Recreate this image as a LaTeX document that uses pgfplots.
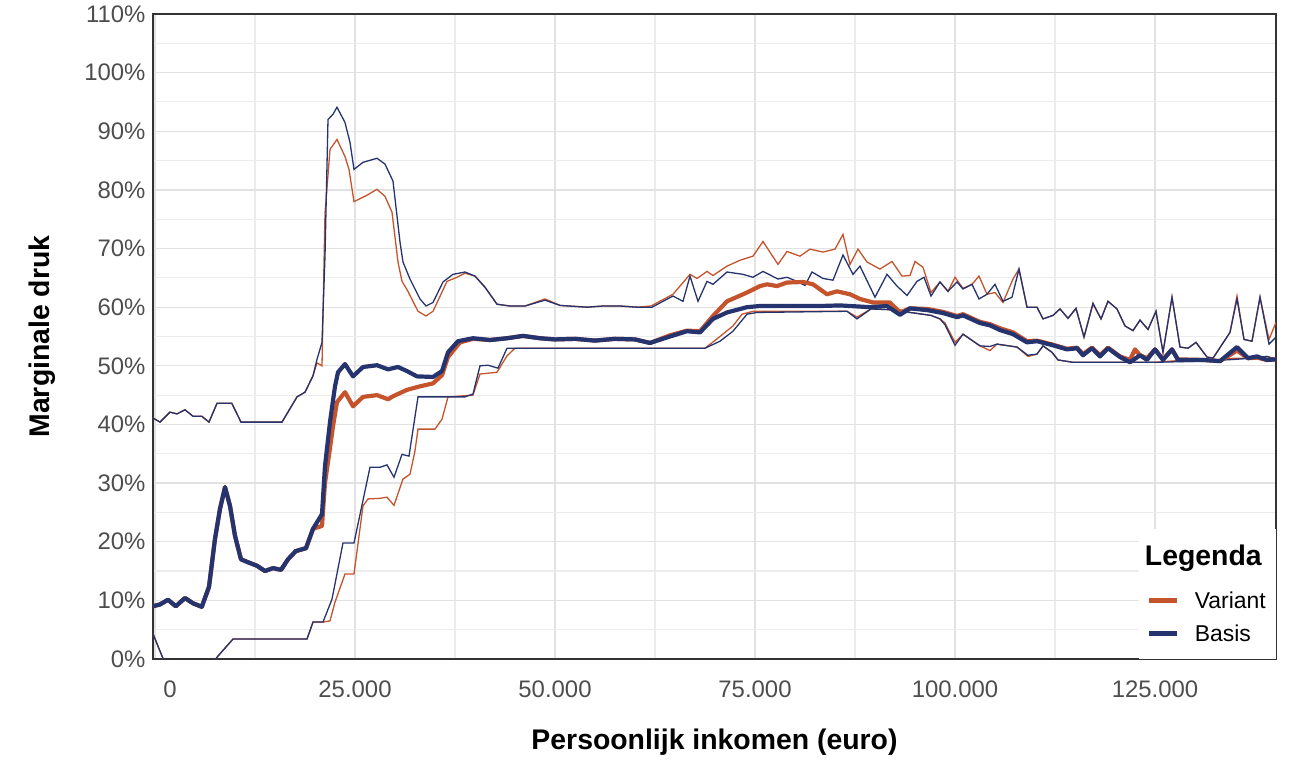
\documentclass[border=0pt]{standalone}
\usepackage{fontspec}
\setmainfont{Liberation Sans}
\usepackage{pgfplots}
\pgfplotsset{compat=1.18}
\definecolor{varc}{RGB}{197,84,44}
\definecolor{basc}{RGB}{37,52,110}
\definecolor{tickc}{RGB}{77,77,77}
\definecolor{gridc}{RGB}{226,226,226}
\definecolor{gridm}{RGB}{236,236,236}

\begin{document}
\begin{tikzpicture}
\useasboundingbox (-153bp,-119bp) rectangle (1146bp,659bp);
\begin{axis}[
  at={(0,0)}, anchor=south west,
  scale only axis, width=1123bp, height=645bp,
  xmin=-250, xmax=140125, ymin=0, ymax=110,
  xtick={0,25000,50000,75000,100000,125000},
  xticklabels={\hspace*{30bp}0,25.000,50.000,75.000,100.000,125.000},
  ytick={0,10,20,30,40,50,60,70,80,90,100,110},
  yticklabels={0\%,10\%,20\%,30\%,40\%,50\%,60\%,70\%,80\%,90\%,100\%,110\%},
  minor x tick num=1, minor y tick num=1,
  grid=both,
  major grid style={draw=gridc, line width=1.3bp},
  minor grid style={draw=gridm, line width=1.1bp},
  major tick length=0pt, minor tick length=0pt,
  axis line style={draw=black!80, line width=1.1bp},
  tick label style={font=\fontsize{24}{28}\selectfont, text=tickc},
  xticklabel style={yshift=-18bp},
  yticklabel style={xshift=-4bp},
  scaled x ticks=false,
  xlabel={Persoonlijk inkomen (euro)},
  ylabel={Marginale druk},
  xlabel style={at={(axis description cs:0.5,-0.1287)}, anchor=center, font=\fontsize{28.5}{32}\selectfont\bfseries},
  ylabel style={at={(axis description cs:-0.0985,0.5)}, anchor=center, font=\fontsize{28.5}{32}\selectfont\bfseries},
  legend style={at={(1,0)}, anchor=south east, draw=none, fill=white,
    font=\fontsize{23}{27}\selectfont, inner xsep=8bp, inner ysep=14bp,
    row sep=11bp, column sep=13bp},
  legend cell align=left,
  legend image code/.code={\draw[#1, line width=5bp] (0bp,0bp) -- (28bp,0bp);},
  thinline/.style={line width=1.3bp},
  thickline/.style={line width=4.2bp, line join=round},
]
\addlegendimage{empty legend}
\addlegendentry{\hspace*{-50bp}\raisebox{10bp}{\fontsize{28.5}{32}\selectfont\bfseries Legenda}}

% Variant lower
\addplot[varc, thinline, forget plot] coordinates {
(-250,4.3)(875,0.5)(1500,-1.5)(7000,-1.0)(7875,0.5)(9750,3.4)(19000,3.4)(19750,6.3)(21000,6.3)
(21875,6.5)(22500,9.7)(23750,14.5)(24875,14.5)(26000,26.1)(26625,27.3)(28125,27.4)(29000,27.6)
(29875,26.2)(31000,30.7)(31875,31.5)(32500,35.5)(32875,39.2)(35000,39.2)(35875,40.9)(36625,44.7)
(39750,45.0)(40625,48.6)(42750,48.9)(44000,51.7)(45000,53.0)(68750,53.0)(70625,55.0)(72250,56.8)
(73375,58.8)(74750,59.3)(86500,59.3)(87750,58.3)(89500,59.7)(93125,59.5)(94375,59.1)(97000,58.6)
(98125,58.0)(98750,57.3)(100000,54.0)(101000,55.4)(103125,53.4)(104375,52.6)(105250,53.7)(107750,53.2)
(109125,51.6)(110250,52.0)(111000,53.4)(112125,52.3)(112875,51.0)(114750,50.6)(125000,50.6)
(128000,50.9)(131000,50.8)(135000,51.3)(137125,51.3)(139000,51.6)(140125,51.1)
};
% Variant upper
\addplot[varc, thinline, forget plot] coordinates {
(-250,41.1)(625,40.4)(1875,42.1)(2750,41.8)(3750,42.5)(4750,41.4)(5850,41.4)(6750,40.4)(7750,43.6)
(9600,43.6)(10750,40.4)(15875,40.4)(17750,44.7)(18750,45.5)(19750,48.3)(20250,50.5)(20875,50.0)
(21250,76)(21875,86.9)(22750,88.6)(23750,85.7)(24250,83.5)(24875,78.0)(26500,79.1)(27750,80.1)
(28750,78.9)(29625,76.2)(30375,67.7)(30875,64.4)(31625,62.7)(32875,59.3)(33875,58.5)(34750,59.3)
(36500,64.4)(37750,65.1)(38750,65.8)(40000,65.3)(41250,63.4)(42750,60.5)(44375,60.2)(46250,60.2)
(48750,61.4)(50625,60.3)(54000,60.0)(56000,60.2)(58125,60.2)(60250,60.0)(62000,60.2)(64750,62.2)
(66875,65.6)(67750,64.9)(69000,66.1)(69750,65.4)(71500,67.0)(73125,68.0)(74750,68.7)(76000,71.2)
(77875,67.3)(79000,69.5)(80625,68.7)(81875,69.9)(83500,69.4)(85000,69.9)(86000,72.4)(86875,67.3)
(87875,69.9)(89000,67.7)(90625,66.5)(92125,67.8)(93375,65.3)(94375,65.4)(95000,67.8)(96000,66.8)
(97000,62.5)(98125,64.3)(99125,62.7)(100000,65.1)(101000,63.2)(102125,63.9)(103000,65.3)(104000,62.2)
(105000,62.5)(106000,60.8)(107250,64.8)(108000,66.5)(109000,60.0)(110250,60.0)(111000,58.0)
(112250,58.6)(113125,59.7)(114125,58.1)(115125,59.8)(116125,54.9)(117250,60.5)(118250,58.0)
(119125,61.0)(120250,59.7)(121250,56.8)(122250,56.0)(123125,57.8)(124125,56.2)(125125,59.3)
(126000,52.3)(127125,61.7)(128125,53.2)(129125,53.0)(130125,54.0)(131500,51.5)(132250,51.3)
(134375,55.7)(135250,61.9)(136125,54.5)(137125,54.2)(138125,61.7)(139250,54.5)(140125,57.4)
};
% Basis lower
\addplot[basc, thinline, forget plot] coordinates {
(-250,4.3)(875,0.5)(1500,-1.5)(7000,-1.0)(7875,0.5)(9750,3.4)(19000,3.4)(19750,6.3)(21000,6.3)
(22125,10.2)(23500,19.8)(24875,19.8)(26875,32.7)(28125,32.7)(29000,33.1)(29875,31.0)(30875,34.9)
(31750,34.6)(32875,44.7)(38750,44.7)(39750,45.2)(40625,50.0)(41625,50.1)(42875,49.6)(44000,53.0)
(68750,53.0)(70625,54.2)(72250,55.9)(74000,58.8)(75250,59.1)(86500,59.3)(87750,58.0)(89500,59.7)
(93125,59.5)(94375,59.1)(97000,58.6)(98125,58.0)(98750,57.0)(100000,53.5)(101000,55.4)(103125,53.4)
(104375,53.3)(105250,53.7)(107750,53.2)(109125,51.8)(110250,52.0)(111000,53.4)(112125,52.3)
(112875,51.0)(114750,50.6)(125000,50.6)(131000,50.8)(135000,51.1)(137125,51.3)(139000,51.6)(140125,51.1)
};
% Basis upper
\addplot[basc, thinline, forget plot] coordinates {
(-250,41.1)(625,40.4)(1875,42.1)(2750,41.8)(3750,42.5)(4750,41.4)(5850,41.4)(6750,40.4)(7750,43.6)
(9600,43.6)(10750,40.4)(15875,40.4)(17750,44.7)(18750,45.5)(19750,48.3)(20250,51.1)(20875,54.0)
(21250,68.7)(21625,92.0)(22250,92.9)(22750,94.1)(23750,91.5)(24375,88.1)(24875,83.5)(26000,84.7)
(27750,85.4)(28750,84.4)(29750,81.5)(30625,71.1)(31000,67.7)(31875,64.8)(33125,61.4)(33875,60.2)
(34750,60.8)(36000,64.3)(37250,65.6)(38750,66.0)(40000,65.3)(41250,63.4)(42750,60.5)(44375,60.2)
(46250,60.2)(48750,61.2)(50625,60.3)(54000,60.0)(56000,60.2)(58125,60.2)(60250,60.0)(62125,60.0)
(64750,61.9)(66000,61.0)(66875,65.3)(67875,61.0)(69000,64.4)(69750,63.9)(71500,66.0)(73500,65.6)
(74750,65.1)(76000,66.1)(77875,64.8)(79000,65.1)(80250,64.4)(81250,63.7)(82125,66.0)(83500,64.9)
(84750,64.6)(86000,68.9)(87250,65.6)(88125,67.0)(90000,61.7)(91500,65.6)(92750,63.6)(94000,62.0)
(95250,64.4)(96125,65.1)(97000,61.9)(98125,64.3)(99125,62.7)(100250,64.3)(101000,63.1)(102125,63.9)
(103000,61.4)(104000,62.2)(105000,63.9)(106000,61.0)(107125,61.7)(108000,66.5)(109000,60.0)
(110250,60.0)(111000,58.0)(112250,58.6)(113125,59.7)(114125,58.1)(115125,59.8)(116125,54.9)
(117250,60.7)(118250,58.0)(119125,61.0)(120250,59.7)(121250,56.8)(122250,56.0)(123125,57.8)
(124125,56.2)(125125,59.3)(126000,52.3)(127125,61.7)(128125,53.2)(129125,53.0)(130125,54.0)
(131500,51.5)(132250,51.3)(134375,55.7)(135250,61.4)(136125,54.5)(137125,54.2)(138125,61.7)
(139250,53.7)(140125,54.9)
};
% Variant median
\addplot[varc, thickline] coordinates {
(-250,9.0)(625,9.3)(1625,10.1)(2600,9.0)(3750,10.4)(4750,9.5)(5850,8.9)(6750,12.3)(7500,20.5)
(8125,25.6)(8750,29.3)(9375,26.1)(10000,21.0)(10750,17.0)(11625,16.5)(12750,15.9)(13750,15.0)
(14750,15.5)(15750,15.2)(16625,17.0)(17600,18.4)(18875,18.9)(19750,22.2)(20875,22.7)(21250,30)
(21875,36)(22250,39.7)(22750,43.8)(23750,45.5)(24750,43.1)(26000,44.7)(27750,45.0)(29125,44.3)
(29750,44.8)(31500,45.9)(33125,46.5)(34750,47.0)(35875,48.4)(36625,51.5)(38125,54.0)(39750,54.6)
(41875,54.4)(44000,54.7)(46000,55.1)(48125,54.7)(50000,54.5)(52500,54.6)(55000,54.3)(57500,54.6)
(60000,54.5)(61875,53.9)(64375,55.2)(66500,56.0)(68125,55.9)(69750,58.5)(71500,61.0)(74000,62.5)
(75625,63.6)(76500,63.9)(77750,63.6)(79000,64.2)(81000,64.3)(82250,63.9)(84000,62.2)(85250,62.7)
(86875,62.2)(88125,61.4)(89750,60.8)(91875,60.8)(93125,59.1)(94375,59.8)(96500,59.7)(98500,59.2)
(100250,58.5)(101000,58.8)(103125,57.5)(104375,57.1)(105625,56.4)(107250,55.7)(109000,54.2)
(110250,54.3)(112250,53.6)(114000,52.9)(115250,53.1)(116000,52.0)(117125,53.1)(118125,51.8)
(119125,53.1)(120625,51.6)(121875,51.0)(122500,52.8)(123125,51.8)(124000,51.3)(125000,52.8)
(126000,51.1)(127125,52.8)(127875,51.1)(131000,51.0)(133125,50.8)(135250,52.6)(136625,51.3)
(137750,51.4)(139000,51.0)(140125,51.1)
};
\addlegendentry{Variant}
% Basis median
\addplot[basc, thickline] coordinates {
(-250,9.0)(625,9.3)(1625,10.1)(2600,9.0)(3750,10.4)(4750,9.5)(5850,8.9)(6750,12.3)(7500,20.5)
(8125,25.6)(8750,29.3)(9375,26.1)(10000,21.0)(10750,17.0)(11625,16.5)(12750,15.9)(13750,15.0)
(14750,15.5)(15750,15.2)(16625,17.0)(17600,18.4)(18875,18.9)(19750,22.2)(20875,24.7)(21250,32.9)
(21875,40.4)(22500,46.5)(22875,48.9)(23750,50.3)(24750,48.2)(26000,49.8)(27750,50.1)(29125,49.4)
(30375,49.8)(31500,49.1)(32750,48.2)(34750,48.1)(35875,49.1)(36625,52.3)(37875,54.2)(39750,54.7)
(41875,54.4)(44000,54.7)(46000,55.1)(48125,54.7)(50000,54.5)(52500,54.6)(55000,54.3)(57500,54.6)
(60000,54.5)(61875,53.9)(64375,55.0)(66500,55.9)(68125,55.7)(69750,58.0)(71500,59.1)(74000,60.0)
(75625,60.2)(79000,60.2)(83125,60.2)(85625,60.3)(89375,60.0)(91500,60.2)(93125,58.7)(94375,59.8)
(96500,59.5)(98500,59.0)(100250,58.3)(101000,58.6)(103125,57.3)(104375,56.9)(105625,56.1)
(107250,55.4)(109000,54.0)(110250,54.2)(112250,53.5)(114000,52.8)(115250,53.0)(116000,51.8)
(117125,53.0)(118125,51.6)(119125,53.0)(120625,51.5)(121875,50.6)(123125,51.8)(124000,51.0)
(125000,52.8)(126000,51.0)(127125,52.8)(127875,51.0)(131000,51.0)(133125,50.8)(135250,53.2)
(136625,51.3)(137750,51.6)(139000,51.0)(140125,51.1)
};
\addlegendentry{Basis}
\end{axis}
\end{tikzpicture}
\end{document}
